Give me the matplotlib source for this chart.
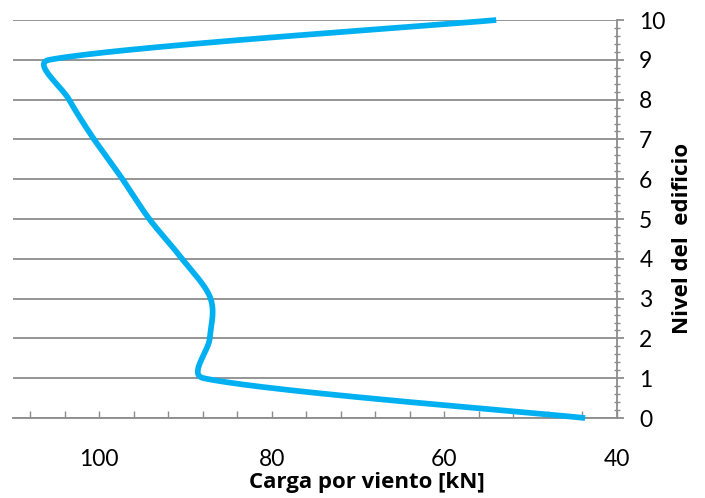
import numpy as np
import matplotlib
matplotlib.use("Agg")
from matplotlib import pyplot as plt
from matplotlib.ticker import MultipleLocator

# niveles del edificio y carga por viento [kN]
niveles = [0, 1, 2, 3, 4, 5, 6, 7, 8, 9, 10]
carga = [43.7, 87.9, 87.2, 87.1, 90.4, 94.2, 97.3, 100.6, 103.5, 105.8, 54.0]

x_ticks = [100, 80, 60, 40]
azul = "#00B0F0"
gris = "#8C8C8C"


def suavizar(ax, xs, ys, cap=0.4, n=60):
    # linea suavizada tipo Excel: Catmull-Rom (1/6) con asas limitadas por el tramo
    p = ax.transData.transform(np.column_stack([xs, ys]))
    m = len(p)
    tang = [(p[min(i + 1, m - 1)] - p[max(i - 1, 0)]) / 6 for i in range(m)]
    t = np.linspace(0, 1, n)[:, None]
    out = []
    for i in range(m - 1):
        p1, p2 = p[i], p[i + 1]
        L = np.hypot(*(p2 - p1))
        h1, h2 = tang[i], tang[i + 1]
        if np.hypot(*h1) > cap * L:
            h1 = h1 / np.hypot(*h1) * cap * L
        if np.hypot(*h2) > cap * L:
            h2 = h2 / np.hypot(*h2) * cap * L
        c1, c2 = p1 + h1, p2 - h2
        seg = ((1 - t) ** 3 * p1 + 3 * (1 - t) ** 2 * t * c1
               + 3 * (1 - t) * t ** 2 * c2 + t ** 3 * p2)
        out.append(seg if i == 0 else seg[1:])
    out = ax.transData.inverted().transform(np.vstack(out))
    return out[:, 0], out[:, 1]


plt.rcParams['font.family'] = ['Lato', 'DejaVu Sans']

fig = plt.figure(figsize=(7.05, 4.98), dpi=100)
ax = fig.add_axes([0.0184, 0.1606, 0.8568, 0.7992])

ax.set_xlim(110, 40)
ax.set_ylim(0, 10)

sx, sy = suavizar(ax, carga, niveles)
ax.plot(sx, sy, color=azul, lw=4.1, solid_capstyle='butt', clip_on=False, zorder=3)

ax.yaxis.tick_right()
ax.yaxis.set_major_locator(MultipleLocator(1))
ax.yaxis.set_minor_locator(MultipleLocator(0.2))
ax.set_xticks(x_ticks)
ax.xaxis.set_minor_locator(MultipleLocator(4))

ax.grid(axis='y', color=gris, lw=1.3)
ax.set_axisbelow(True)

for s in ['top', 'left']:
    ax.spines[s].set_visible(False)
for s in ['bottom', 'right']:
    ax.spines[s].set_color(gris)
    ax.spines[s].set_linewidth(1.3)

ax.tick_params(axis='x', which='both', direction='in', length=5, width=1, color=gris,
               labelsize=16.5, pad=22)
ax.tick_params(axis='y', which='major', direction='out', length=5, width=1.3, color=gris,
               labelsize=16.5, pad=11)
ax.tick_params(axis='y', which='minor', direction='inout', length=5, width=1, color=gris)

ax.set_xlabel('Carga por viento [kN]', fontsize=16, fontweight='bold',
              family=['Open Sans', 'DejaVu Sans'], va='center')
ax.xaxis.set_label_coords(0.586, -0.161)
ax.set_ylabel('Nivel del  edificio', fontsize=16, fontweight='bold',
              family=['Open Sans', 'DejaVu Sans'], rotation=90, ha='center', va='center')
ax.yaxis.set_label_coords(1.108, 0.452)

fig.savefig('out.png', dpi=100)
